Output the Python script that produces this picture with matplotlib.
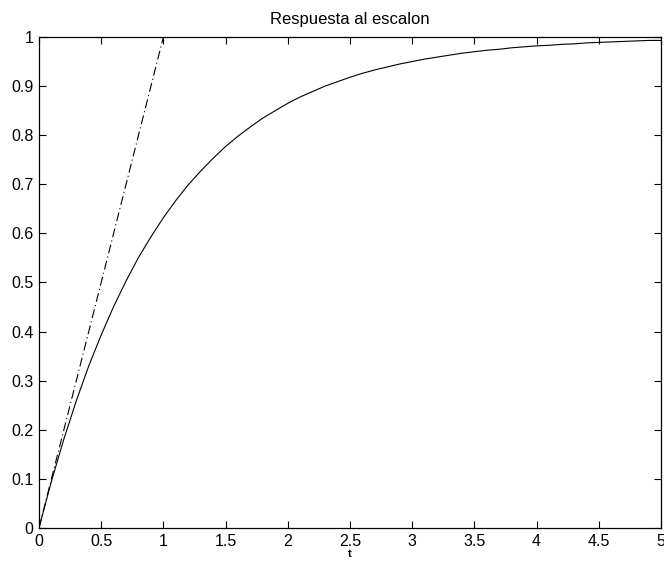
import numpy as np
import matplotlib.pyplot as plt

# step response of a first order system, sampled every 0.1 s
t = [0.0, 0.1, 0.2, 0.3, 0.4, 0.5, 0.6, 0.7, 0.8, 0.9,
     1.0, 1.1, 1.2, 1.3, 1.4, 1.5, 1.6, 1.7, 1.8, 1.9,
     2.0, 2.1, 2.2, 2.3, 2.4, 2.5, 2.6, 2.7, 2.8, 2.9,
     3.0, 3.1, 3.2, 3.3, 3.4, 3.5, 3.6, 3.7, 3.8, 3.9,
     4.0, 4.1, 4.2, 4.3, 4.4, 4.5, 4.6, 4.7, 4.8, 4.9, 5.0]
y = [0.000, 0.095, 0.181, 0.259, 0.330, 0.393, 0.451, 0.503, 0.551, 0.593,
     0.632, 0.667, 0.699, 0.727, 0.753, 0.777, 0.798, 0.817, 0.835, 0.850,
     0.865, 0.878, 0.889, 0.900, 0.909, 0.918, 0.926, 0.933, 0.939, 0.945,
     0.950, 0.955, 0.959, 0.963, 0.967, 0.970, 0.973, 0.975, 0.978, 0.980,
     0.982, 0.983, 0.985, 0.986, 0.988, 0.989, 0.990, 0.991, 0.992, 0.993, 0.993]

# tangent at the origin
tan_t = [0.0, 1.0]
tan_y = [0.0, 1.0]

xticks = [0, 0.5, 1, 1.5, 2, 2.5, 3, 3.5, 4, 4.5, 5]
xlabels = ['0', '0.5', '1', '1.5', '2', '2.5', '3', '3.5', '4', '4.5', '5']
yticks = [0, 0.1, 0.2, 0.3, 0.4, 0.5, 0.6, 0.7, 0.8, 0.9, 1]
ylabels = ['0', '0.1', '0.2', '0.3', '0.4', '0.5', '0.6', '0.7', '0.8', '0.9', '1']

plt.rcParams['font.family'] = ['Liberation Sans', 'DejaVu Sans']

fig = plt.figure(figsize=(6.64, 5.63), dpi=100)
ax = fig.add_axes([0.0587, 0.0622, 0.9368, 0.8721])

ax.plot(t, y, color='black', lw=0.8)
ax.plot(tan_t, tan_y, color='black', lw=0.8, linestyle=(0, (8, 3, 1, 3)))

ax.set_xlim(0, 5)
ax.set_ylim(0, 1)
ax.set_xticks(xticks)
ax.set_xticklabels(xlabels)
ax.set_yticks(yticks)
ax.set_yticklabels(ylabels)
ax.tick_params(direction='in', length=5, width=0.8, top=True, right=True,
               labelsize=11.5, pad=4)
for s in ax.spines.values():
    s.set_linewidth(0.9)

ax.set_title('Respuesta al escalon', fontsize=12, pad=9)
ax.set_xlabel('t', fontsize=8, fontweight='bold', labelpad=0)

fig.savefig('out.png', dpi=100)
